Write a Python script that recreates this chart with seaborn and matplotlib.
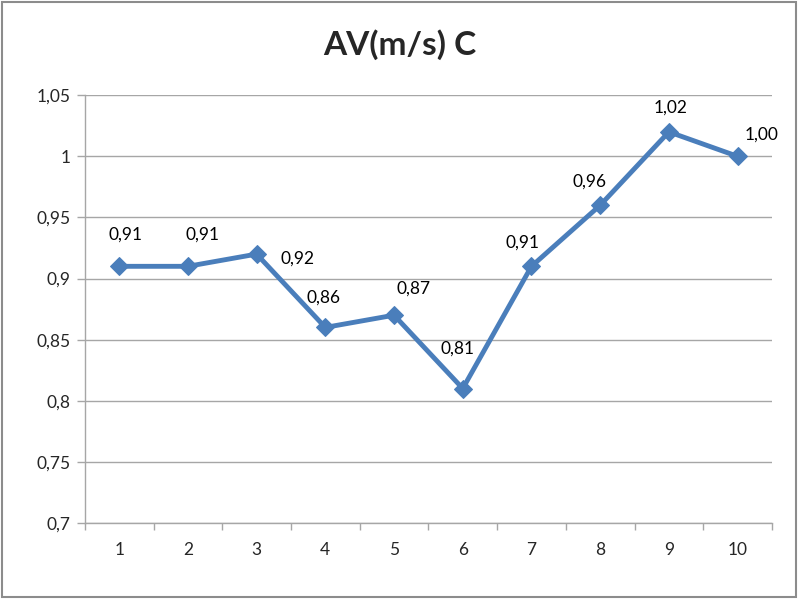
import matplotlib
matplotlib.use('Agg')
import matplotlib.pyplot as plt
import matplotlib.ticker as mticker
from matplotlib.patches import Rectangle
import seaborn as sns
import pandas as pd

# ── Data ───────────────────────────────────────────────────────────────────────
categories = [1, 2, 3, 4, 5, 6, 7, 8, 9, 10]
av_values = [0.91, 0.91, 0.92, 0.86, 0.87, 0.81, 0.91, 0.96, 1.02, 1.00]
title = "AV(m/s) C"
y_ticks = [0.7, 0.75, 0.8, 0.85, 0.9, 0.95, 1.0, 1.05]

# label offsets in pixels (dx, dy), as placed in the original
label_offsets = [(6, 32), (15, 32), (41, -5), (-2, 30), (20, 27),
                 (-5, 40), (-9, 24), (-11, 24), (2, 24), (24, 22)]

LINE_BLUE = "#4A7EBB"
GRID_GREY = "#A6A6A6"

sns.set_style("white")
plt.rcParams['font.family'] = ['Lato', 'DejaVu Sans']

df = pd.DataFrame({"cat": categories, "val": av_values})

fig = plt.figure(figsize=(8.0, 5.99), dpi=100)
ax = fig.add_axes([0.106, 0.127, 0.859, 0.714])

sns.lineplot(data=df, x="cat", y="val", ax=ax, color=LINE_BLUE, linewidth=3.5,
             marker="D", markersize=9, markeredgecolor=LINE_BLUE,
             markerfacecolor=LINE_BLUE)

for x, v, (dx, dy) in zip(categories, av_values, label_offsets):
    ax.annotate(f"{v:.2f}".replace('.', ','), (x, v), xytext=(dx, dy),
                textcoords='offset pixels', ha='center', va='center',
                fontsize=12.5, color='black')

ax.set_xlim(0.5, len(categories) + 0.5)
ax.set_ylim(y_ticks[0], y_ticks[-1])
ax.set_yticks(y_ticks)
ax.yaxis.set_major_formatter(mticker.FuncFormatter(lambda v, p: f"{v:g}".replace('.', ',')))
ax.set_xticks(categories)
ax.set_xticks([c - 0.5 for c in categories] + [categories[-1] + 0.5], minor=True)
ax.grid(axis='y', color=GRID_GREY, linewidth=1)
ax.set_axisbelow(True)
ax.set_xlabel("")
ax.set_ylabel("")

for side in ['top', 'right']:
    ax.spines[side].set_visible(False)
for side in ['left', 'bottom']:
    ax.spines[side].set_color(GRID_GREY)
    ax.spines[side].set_linewidth(1)

ax.tick_params(axis='x', which='major', length=0, pad=14, labelsize=12.5)
ax.tick_params(axis='x', which='minor', length=5, color=GRID_GREY, direction='out', width=1)
ax.tick_params(axis='y', which='major', length=6, color=GRID_GREY, direction='out',
               width=1, pad=4, labelsize=12.5, left=True)
ax.tick_params(axis='x', which='minor', bottom=True)

fig.text(0.5, 0.925, title, ha='center', va='center', fontsize=24, fontweight='bold')

# chart area border
fig.patches.append(Rectangle((0.003, 0.004), 0.992, 0.992, transform=fig.transFigure,
                             fill=False, edgecolor='#8C8C8C', linewidth=1.5))

plt.savefig("out.png", dpi=100)
plt.close()
